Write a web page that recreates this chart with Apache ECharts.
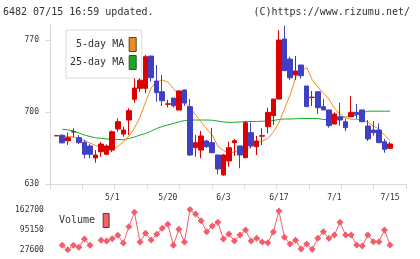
<!DOCTYPE html>
<html>
<head>
<meta charset="utf-8">
<script src="https://cdn.jsdelivr.net/npm/echarts@6/dist/echarts.min.js"></script>
<style>
  html, body { margin: 0; padding: 0; background: #fff; }
  #chart { width: 420px; height: 259px; }
</style>
</head>
<body>
<div id="chart"></div>
<script>
// trading days 2020/4/16 - 7/15
const dates = ['4/16','4/17','4/20','4/21','4/22','4/23','4/24','4/27','4/28','4/30',
  '5/1','5/7','5/8','5/11','5/12','5/13','5/14','5/15','5/18','5/19',
  '5/20','5/21','5/22','5/25','5/26','5/27','5/28','5/29','6/1','6/2',
  '6/3','6/4','6/5','6/8','6/9','6/10','6/11','6/12','6/15','6/16',
  '6/17','6/18','6/19','6/22','6/23','6/24','6/25','6/26','6/29','6/30',
  '7/1','7/2','7/3','7/6','7/7','7/8','7/9','7/10','7/13','7/14','7/15']
const labelIdx = [10, 20, 30, 40, 50, 60]

const opens = [676.8, 677.5, 672, 680.5, 675, 670.5, 667, 655.4, 661.4, 658.9,
  663, 683.5, 678.6, 692.2, 712.3, 723, 723, 754.4, 730.1, 719.7,
  707.5, 713.6, 701.9, 721.4, 705.2, 665.3, 663, 671.8, 670.2, 658.2,
  638.8, 652.4, 670.2, 667, 655.6, 679.9, 666.3, 676.5, 685.7, 696.4,
  712.6, 771, 751.5, 736, 745.7, 725.3, 714, 719.7, 705.2, 702,
  688.3, 695.4, 690.6, 695.4, 699.7, 702, 686.4, 682.5, 682.5, 671.1, 664.7]
const closes = [677, 670, 675, 681, 670.2, 658.9, 658.9, 658.2, 668.9, 667,
  680.8, 690.6, 682.5, 701.3, 723.3, 731, 753.8, 733.3, 718.8, 711,
  708, 706, 720.5, 708.7, 658.2, 670.2, 676.7, 666.3, 660.4, 644.6,
  658.2, 665.3, 672.1, 658.2, 689.6, 667, 671.8, 677, 699.7, 712.6,
  770, 740.2, 733.3, 739.9, 735.3, 705.2, 714.5, 704.2, 702, 686.7,
  698.1, 692.2, 684.7, 699.7, 697.8, 690.6, 673.8, 679.9, 670.2, 663.7, 668.9]
const lows = [676.8, 669.5, 668, 675.4, 668.9, 655, 655, 650.7, 656.5, 658,
  661, 680.8, 676, 677.6, 709, 719.7, 718.2, 729.5, 710, 705.8,
  704.6, 704.4, 701.9, 706, 657.2, 656.5, 655, 665, 660, 639.4,
  638, 646.8, 657.2, 645.3, 655, 664.7, 658.2, 667.9, 679.3, 687.4,
  712.6, 740, 731.1, 731.1, 732.4, 705.2, 705.8, 698.1, 702, 684.7,
  688.3, 686.7, 681.5, 695.4, 693.2, 690, 671.8, 677, 670, 660.4, 664.7]
const highs = [677, 678, 680, 684, 677.6, 672.8, 669, 663, 671, 668.5,
  682, 693.9, 685.7, 703.6, 744, 734.3, 755.4, 754.4, 745.7, 736,
  711.7, 713.6, 721, 722, 712.6, 677.6, 681.5, 673, 684.7, 658.2,
  659, 671, 673.8, 667, 691.2, 689.6, 676.7, 684.2, 704.2, 712.6,
  779.7, 784, 753.8, 754.4, 745.7, 725.3, 720.4, 719.7, 712.6, 702,
  699.6, 709, 693.2, 715.5, 707.8, 702, 692.2, 691.2, 689, 673.8, 671]

const ma5 = [null, 676.7, 676.2, 675.7, 674.2, 672.3, 669.9, 667.4, 665.7, 663.5,
  663.5, 666.5, 670.8, 676.7, 684.4, 695.1, 709.7, 723.3, 729.2, 731.1,
  729.2, 723, 716.5, 709.7, 703.9, 697.1, 690.3, 683.5, 677.6, 666.9,
  662.6, 660.1, 661.1, 663.1, 663.1, 666.3, 669.9, 671.8, 674.2, 680.6,
  689.3, 702.9, 716.5, 733.1, 739.9, 743.3, 731.1, 724.3, 718.5, 712.6,
  703.4, 698.1, 694.2, 692.9, 692.9, 692.2, 690.3, 686.4, 683.5, 677.6, 672.3]
const ma25 = [null, 683.2, 682.7, 681.5, 679.6, 677.6, 676.2, 674.9, 674.4, 673.8,
  673.3, 673.3, 673, 674.2, 675.7, 677.6, 679.1, 681.5, 684, 685.9,
  687.4, 688.8, 690.3, 691.7, 692.2, 692.2, 692.2, 692.2, 692, 691.2,
  690.3, 690, 690, 690.3, 690.6, 690.8, 690.8, 691, 691.3, 691.7,
  692.7, 693.2, 693.2, 693.4, 693.7, 693.7, 693.7, 693.7, 692.7, 692.7,
  694.2, 694.6, 695.1, 695.6, 697.1, 699.1, 700.8, 700.8, 700.8, 700.8, 700.8]

const volumes = [null, 42700, 27600, 42700, 36000, 63800, 42700, null, 59400, 57100,
  64800, 76200, 50400, 105000, 153300, 53700, 82900, 60400, 79600, 99700,
  113100, 42700, 96300, 53700, 162700, 147600, 125100, 88300, 107400, 119800,
  63800, 80600, 57100, 77200, 94000, 57100, 66100, 53700, 51400, 87300,
  157700, 69500, 47000, 59400, 30300, 47000, 29300, 66100, 88300, 66100,
  77200, 119800, 77200, 77200, 43700, 40300, 77200, 54800, 54800, 94000, 43700]
const volTicks = [27600, 95150, 162700]
const priceTicks = [630, 700, 770]

const mono = 'DejaVu Sans Mono'
const axisGray = '#d9d9d9'
const swatchBorder = '#444'

const candleData = opens.map((o, i) => [o, closes[i], lows[i], highs[i]])

const chart = echarts.init(document.getElementById('chart'))
chart.setOption({
  animation: false,
  title: [
    { text: '6482 07/15 16:59 updated.', left: 3, top: 7, padding: 0,
      textStyle: { fontFamily: mono, fontSize: 10, fontWeight: 'normal', color: '#333' } },
    { text: '(C)https://www.rizumu.net/', right: 10, top: 7, padding: 0,
      textStyle: { fontFamily: mono, fontSize: 10, fontWeight: 'normal', color: '#333' } }
  ],
  legend: [
    {
      data: [
        { name: '5-day MA', itemStyle: { color: '#f08c1c', borderColor: swatchBorder, borderWidth: 1 } },
        { name: '25-day MA', itemStyle: { color: '#1aaa22', borderColor: swatchBorder, borderWidth: 1 } }
      ],
      orient: 'vertical',
      left: 66,
      top: 30,
      align: 'right',
      icon: 'rect',
      itemWidth: 7,
      itemHeight: 14,
      itemGap: 3,
      padding: [7, 5, 8, 4],
      backgroundColor: '#fff',
      borderColor: '#dcdcdc',
      borderWidth: 1,
      selectedMode: false,
      formatter: n => n.padStart(9, ' '),
      textStyle: { fontFamily: mono, fontSize: 10, color: '#333' }
    },
    {
      data: [{ name: 'Volume', itemStyle: { color: '#ff5c64', borderColor: swatchBorder, borderWidth: 1 } }],
      left: 59,
      top: 213,
      align: 'right',
      icon: 'rect',
      itemWidth: 6,
      itemHeight: 14,
      padding: 0,
      selectedMode: false,
      textStyle: { fontFamily: mono, fontSize: 10, color: '#333', padding: [0, 3, 0, 0] }
    }
  ],
  grid: [
    { left: 50, top: 25, width: 356, height: 159 },
    { left: 53.9, top: 25, width: 338.9, height: 159 },
    { left: 53.9, top: 209.5, width: 338.9, height: 40.3 }
  ],
  xAxis: [
    {
      gridIndex: 0, type: 'value', min: 0, max: 11, interval: 1,
      axisLine: { lineStyle: { color: axisGray, width: 1 } },
      axisTick: { length: 5, lineStyle: { color: axisGray } },
      axisLabel: { show: false },
      splitLine: { show: false }
    },
    {
      gridIndex: 1, type: 'category', data: dates, boundaryGap: true,
      axisLine: { show: false },
      axisTick: { show: false },
      axisLabel: {
        interval: idx => labelIdx.includes(idx),
        margin: 10,
        fontFamily: mono, fontSize: 8, color: '#333'
      }
    },
    {
      gridIndex: 2, type: 'category', data: dates, boundaryGap: true, show: false
    }
  ],
  yAxis: [
    {
      gridIndex: 0, type: 'value', min: 630, max: 784.6,
      axisLine: { show: true, lineStyle: { color: axisGray, width: 1 } },
      axisTick: { show: true, length: 5, customValues: priceTicks, lineStyle: { color: axisGray } },
      axisLabel: { customValues: priceTicks, margin: 11, fontFamily: mono, fontSize: 8, color: '#333' },
      splitLine: { show: false }
    },
    {
      gridIndex: 1, type: 'value', min: 630, max: 784.6, show: false
    },
    {
      gridIndex: 2, type: 'value', min: 27600, max: 162700,
      axisLine: { show: false },
      axisTick: { show: false },
      axisLabel: {
        customValues: volTicks, margin: 10, formatter: v => String(v),
        fontFamily: mono, fontSize: 8, color: '#333'
      },
      splitLine: { show: false }
    }
  ],
  series: [
    {
      name: '25-day MA', type: 'line', xAxisIndex: 1, yAxisIndex: 1,
      data: ma25, symbol: 'none', z: 1,
      lineStyle: { color: '#1aaa22', width: 1 }, itemStyle: { color: '#1aaa22' }
    },
    {
      name: '5-day MA', type: 'line', xAxisIndex: 1, yAxisIndex: 1,
      data: ma5, symbol: 'none', z: 1,
      lineStyle: { color: '#f08c1c', width: 1 }, itemStyle: { color: '#f08c1c' }
    },
    {
      name: 'Price', type: 'candlestick', xAxisIndex: 1, yAxisIndex: 1,
      data: candleData, barWidth: 5, z: 3,
      itemStyle: {
        color: '#dd0000', color0: '#4040c4',
        borderColor: '#dd0000', borderColor0: '#4040c4', borderWidth: 1
      }
    },
    {
      name: 'Volume', type: 'line', xAxisIndex: 2, yAxisIndex: 2,
      data: volumes, connectNulls: false,
      symbol: 'diamond', symbolSize: 7, showAllSymbol: true,
      lineStyle: { color: '#f45c6a', width: 1 },
      itemStyle: { color: '#f45c6a' }
    }
  ]
})
</script>
</body>
</html>
